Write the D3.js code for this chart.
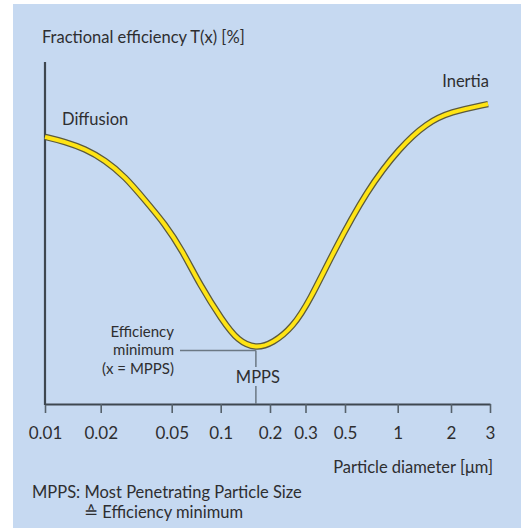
<!DOCTYPE html>
<html>
<head>
<meta charset="utf-8">
<script src="https://cdn.jsdelivr.net/npm/d3@7/dist/d3.min.js"></script>
<style>
  html, body { margin: 0; padding: 0; background: #ffffff; }
  svg { display: block; }
  text { font-family: Lato, "Open Sans", sans-serif; fill: #2e2e30; }
</style>
</head>
<body>
<svg id="chart" width="521" height="528"></svg>
<script>
// ---- data ----
const tickValues = [0.01, 0.02, 0.05, 0.1, 0.2, 0.3, 0.5, 1, 2, 3];
const tickLabels = ["0.01", "0.02", "0.05", "0.1", "0.2", "0.3", "0.5", "1", "2", "3"];
const diameters = [0.010, 0.01282, 0.01645, 0.02114, 0.02737, 0.0354, 0.0459, 0.0579, 0.0746, 0.1018, 0.1275, 0.164,
                   0.207, 0.260, 0.318, 0.428, 0.668, 1.03, 1.464, 1.974, 2.94];
const efficiency = [78.1, 76.7, 74.6, 71.3, 66.5, 59.6, 52.6, 45.0, 34.8, 24.6, 18.4, 16.2,
                    17.8, 22.5, 30.4, 44.2, 62.6, 75.1, 82.2, 85.4, 87.7];
const mpps = 0.164;
const mppsEfficiency = 16.2;

// ---- layout ----
const svg = d3.select("#chart");
svg.append("rect").attr("x", 13).attr("y", 4).attr("width", 508).attr("height", 524).attr("fill", "#c6d9f1");

// axis tick positions are not an exact log spacing in the original; use a piecewise log scale
const x = d3.scaleLog()
  .domain(tickValues)
  .range([45, 100.7, 171.7, 220.7, 270, 305.5, 345, 397.7, 451, 490]);
const y = d3.scaleLinear().domain([0, 100]).range([404, 62]);

const axisColor = "#3e4750";

// x axis
const xAxis = d3.axisBottom(x)
  .tickValues(tickValues)
  .tickFormat((d, i) => tickLabels[i])
  .tickSizeInner(9)
  .tickSizeOuter(0)
  .tickPadding(14);
const gx = svg.append("g").attr("transform", `translate(0,${y(0)})`).call(xAxis);
gx.select(".domain").attr("stroke", axisColor).attr("stroke-width", 2.2);
gx.selectAll(".tick line").attr("stroke", "#56616b").attr("stroke-width", 1.6);
gx.selectAll(".tick text")
  .attr("font-family", "Lato, sans-serif")
  .attr("font-size", 17)
  .attr("fill", "#2e2e30");

// y axis line (no ticks)
svg.append("line")
  .attr("x1", x(0.01)).attr("x2", x(0.01))
  .attr("y1", y(100)).attr("y2", y(0) + 1)
  .attr("stroke", axisColor).attr("stroke-width", 2.2);

// MPPS guide lines
const guide = "#6b7884";
const guideY = y(mppsEfficiency) + 2;
svg.append("line")
  .attr("x1", 180).attr("x2", x(mpps))
  .attr("y1", guideY).attr("y2", guideY)
  .attr("stroke", guide).attr("stroke-width", 1.5);
svg.append("line")
  .attr("x1", x(mpps)).attr("x2", x(mpps))
  .attr("y1", guideY).attr("y2", 367)
  .attr("stroke", guide).attr("stroke-width", 1.5);
svg.append("line")
  .attr("x1", x(mpps)).attr("x2", x(mpps))
  .attr("y1", 386).attr("y2", y(0))
  .attr("stroke", guide).attr("stroke-width", 1.5);

// curve (smooth B-spline through the read points)
const line = d3.line()
  .x((d, i) => x(diameters[i]))
  .y((d, i) => y(efficiency[i]))
  .curve(d3.curveBasis);
svg.append("path").datum(efficiency).attr("d", line)
  .attr("fill", "none").attr("stroke", "#5c5a3c").attr("stroke-width", 6.5)
  .attr("stroke-linecap", "butt");
svg.append("path").datum(efficiency).attr("d", line)
  .attr("fill", "none").attr("stroke", "#ffe414").attr("stroke-width", 4)
  .attr("stroke-linecap", "butt");

// texts
const fs = 16.5;
svg.append("text").attr("x", 42).attr("y", 43).attr("font-size", fs).text("Fractional efficiency T(x) [%]");
svg.append("text").attr("x", 62).attr("y", 125).attr("font-size", fs).text("Diffusion");
svg.append("text").attr("x", 489).attr("y", 87).attr("font-size", fs).attr("text-anchor", "end").text("Inertia");
const fsMin = 15;
svg.append("text").attr("x", 174).attr("y", 336.5).attr("font-size", fsMin).attr("text-anchor", "end").text("Efficiency");
svg.append("text").attr("x", 174).attr("y", 355).attr("font-size", fsMin).attr("text-anchor", "end").text("minimum");
svg.append("text").attr("x", 174).attr("y", 373.5).attr("font-size", fsMin).attr("text-anchor", "end").text("(x = MPPS)");
svg.append("text").attr("x", x(mpps) + 2).attr("y", 383).attr("font-size", fs).attr("text-anchor", "middle").text("MPPS");
svg.append("text").attr("x", 493).attr("y", 473).attr("font-size", fs).attr("text-anchor", "end").text("Particle diameter [μm]");
svg.append("text").attr("x", 32).attr("y", 498).attr("font-size", fs).text("MPPS: Most Penetrating Particle Size");
svg.append("text").attr("x", 84).attr("y", 518).attr("font-size", fs).text("≙ Efficiency minimum");
</script>
</body>
</html>
